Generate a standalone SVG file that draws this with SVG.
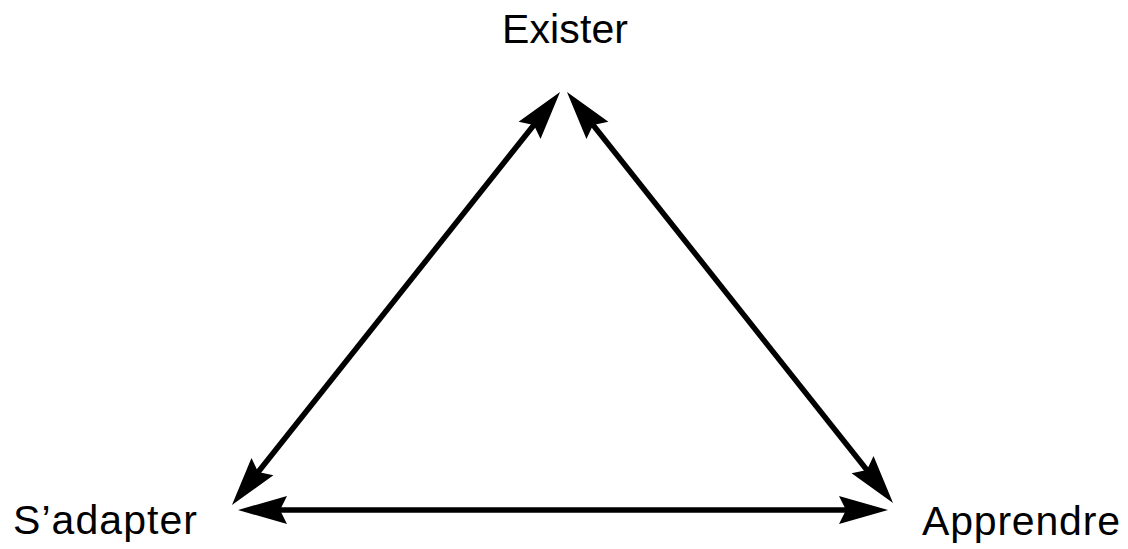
<svg xmlns="http://www.w3.org/2000/svg" width="1128" height="549" viewBox="0 0 1128 549">
  <style>
    .lbl { font-family: "Liberation Sans", Arial, sans-serif; font-size: 41px; fill: #000; }
    .edge { stroke: #000; stroke-width: 5.5; fill: none; marker-start: url(#arr); marker-end: url(#arr); }
  </style>
  <defs>
    <marker id="arr" markerUnits="userSpaceOnUse" markerWidth="56" markerHeight="34" viewBox="0 -17 56 34" refX="29" refY="0" orient="auto-start-reverse">
      <path d="M49,0 L0,-14 L7,0 L0,14 Z" fill="#000"/>
    </marker>
  </defs>
  <rect width="1128" height="549" fill="#fff"/>
  <g id="connectors">
    <line class="edge" x1="244.4" y1="489.3" x2="547.6" y2="107.7"/>
    <line class="edge" x1="880.6" y1="487.3" x2="579.4" y2="107.7"/>
    <line class="edge" x1="258" y1="510" x2="868" y2="510"/>
  </g>
  <g id="node-exister">
    <text class="lbl" x="565" y="43" text-anchor="middle" textLength="126">Exister</text>
  </g>
  <g id="node-sadapter">
    <text class="lbl" x="13" y="534" textLength="184">S’adapter</text>
  </g>
  <g id="node-apprendre">
    <text class="lbl" x="922" y="535" textLength="198">Apprendre</text>
  </g>
</svg>
